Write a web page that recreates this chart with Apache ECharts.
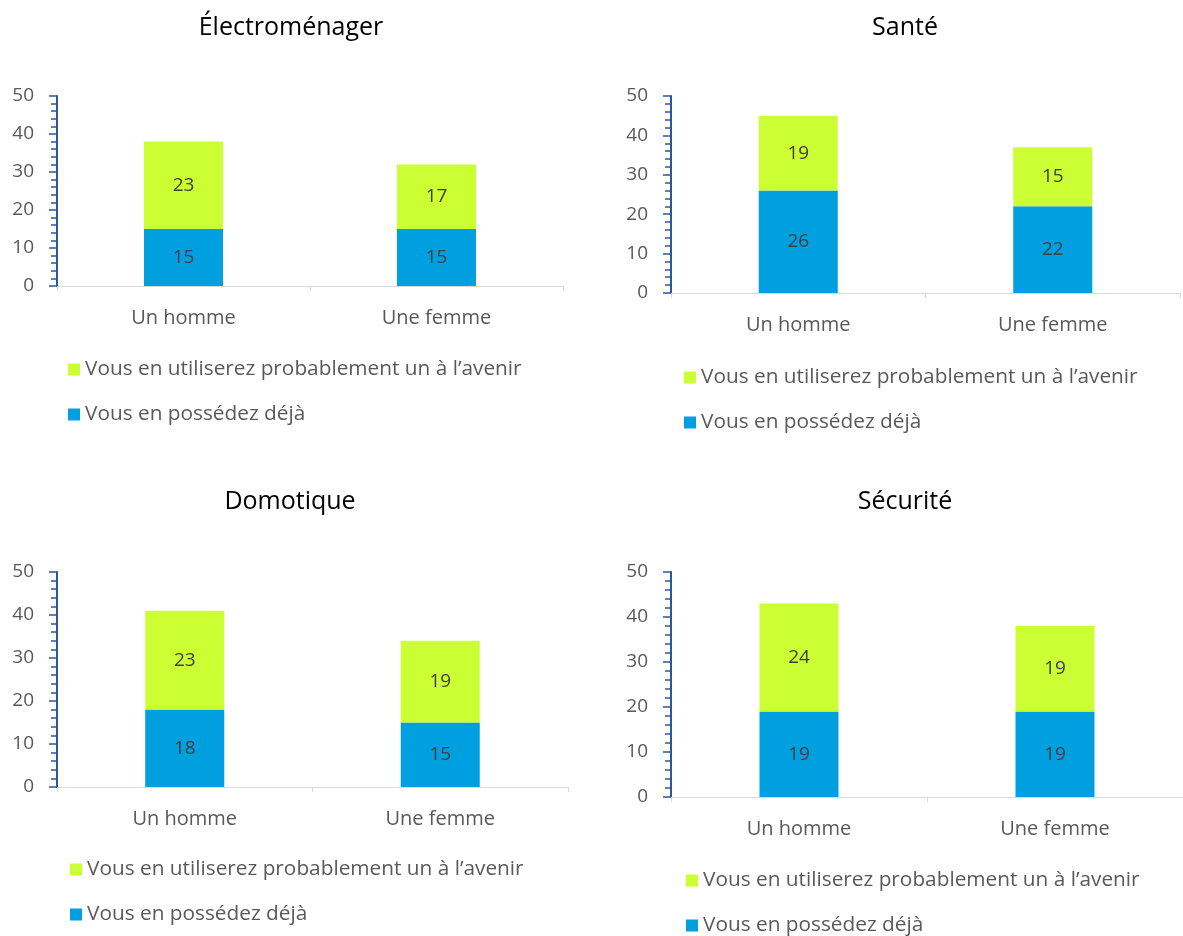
<!DOCTYPE html>
<html><head><meta charset="utf-8">
<script src="https://cdn.jsdelivr.net/npm/echarts@6/dist/echarts.min.js"></script>
<style>html,body{margin:0;padding:0;background:#fff}#c{width:1183px;height:936px}</style>
</head><body><div id="c"></div>
<script>
const categories = ['Un homme', 'Une femme'];
const panelTitles = ['Électroménager', 'Santé', 'Domotique', 'Sécurité'];
const seriesNames = ['Vous en utiliserez probablement un à l\u2019avenir', 'Vous en possédez déjà'];
const yTicks = [0, 10, 20, 30, 40, 50];
// per panel: [homme, femme]
const possedeElectro = [15, 15];
const avenirElectro = [23, 17];
const possedeSante = [26, 22];
const avenirSante = [19, 15];
const possedeDomo = [18, 15];
const avenirDomo = [23, 19];
const possedeSecu = [19, 19];
const avenirSecu = [24, 19];

const possede = [possedeElectro, possedeSante, possedeDomo, possedeSecu];
const avenir = [avenirElectro, avenirSante, avenirDomo, avenirSecu];

const grids = [
  {left: 57, top: 96, width: 506, height: 190},
  {left: 671, top: 96, width: 509, height: 197},
  {left: 57, top: 572, width: 511, height: 215},
  {left: 671, top: 572, width: 515, height: 225}
];
const titlePos = [[286, 10], [900, 10], [285, 484], [900, 484]];
const legendPos = [[68, 359], [684, 367], [70, 859], [686, 870]];
const BLUE = '#009FDF', GREEN = '#CCFF33', AXIS = '#2B5797';
const FONT = '"Open Sans", "Noto Sans", sans-serif';

const option = {
  animation: false,
  textStyle: {fontFamily: FONT},
  title: panelTitles.map((t, i) => ({
    text: t, left: titlePos[i][0], top: titlePos[i][1], textAlign: 'center', padding: 5,
    textStyle: {fontFamily: FONT, fontSize: 25, fontWeight: 'normal', color: '#000'}
  })),
  legend: legendPos.map(p => ({
    data: seriesNames, orient: 'vertical', left: p[0], top: p[1], itemGap: 24, padding: 0,
    height: 80,
    icon: 'rect', itemWidth: 12, itemHeight: 12, selectedMode: false,
    textStyle: {fontFamily: FONT, fontSize: 20.8, color: '#595959', padding: [0, 0, 0, 0]}
  })),
  grid: grids,
  xAxis: grids.map((g, i) => ({
    type: 'category', gridIndex: i, data: categories,
    axisLine: {lineStyle: {color: '#D9D9D9', width: 1}},
    axisTick: {show: true, alignWithLabel: false, length: 5, lineStyle: {color: '#D9D9D9'}},
    axisLabel: {fontFamily: FONT, fontSize: 20, color: '#595959', margin: 22}
  })),
  yAxis: grids.map((g, i) => ({
    type: 'value', gridIndex: i, min: yTicks[0], max: yTicks[yTicks.length - 1], interval: 10,
    axisLine: {show: true, lineStyle: {color: AXIS, width: 2}},
    axisTick: {show: true, length: 8, lineStyle: {color: AXIS, width: 1.5}},
    minorTick: {show: true, splitNumber: 5, length: 6, lineStyle: {color: AXIS, width: 1.5}},
    splitLine: {show: false},
    axisLabel: {fontFamily: FONT, fontSize: 19, color: '#595959', margin: 23}
  })),
  series: []
};
for (let i = 0; i < 4; i++) {
  option.series.push({
    name: seriesNames[1], type: 'bar', stack: 's' + i, xAxisIndex: i, yAxisIndex: i,
    data: possede[i], barWidth: 79, itemStyle: {color: BLUE},
    label: {show: true, position: 'inside', color: '#404040', fontSize: 19, fontFamily: FONT}
  });
  option.series.push({
    name: seriesNames[0], type: 'bar', stack: 's' + i, xAxisIndex: i, yAxisIndex: i,
    data: avenir[i], barWidth: 79, itemStyle: {color: GREEN},
    label: {show: true, position: 'inside', color: '#404040', fontSize: 19, fontFamily: FONT}
  });
}
const chart = echarts.init(document.getElementById('c'));
chart.setOption(option);
</script></body></html>
